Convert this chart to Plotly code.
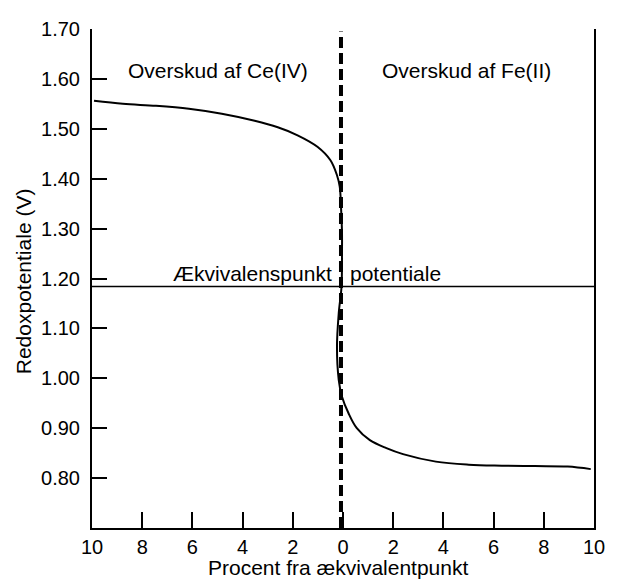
import plotly.graph_objects as go

# Titration curve: percent away from the equivalence point (negative = Ce(IV) side)
pct = [-9.92, -8.77, -7.45, -6.14, -4.83, -3.52, -2.60, -1.81, -1.02,
       -0.50, -0.24, -0.13, -0.08, -0.04, -0.04, -0.06, -0.17, -0.24, -0.17,
       -0.04, 0.22, 0.55, 1.07, 1.73, 2.39, 3.70, 5.01, 6.33, 7.64, 8.95, 9.87]
potential = [1.556, 1.550, 1.546, 1.540, 1.530, 1.516, 1.503, 1.487, 1.464,
             1.437, 1.407, 1.384, 1.344, 1.291, 1.257, 1.183, 1.130, 1.063, 0.997,
             0.963, 0.930, 0.900, 0.876, 0.860, 0.848, 0.833, 0.827, 0.825, 0.824, 0.823, 0.818]

eq_potential = 1.184     # equivalence-point potential (V)
eq_x = -0.08             # equivalence point marker

x_ticks = [-10, -8, -6, -4, -2, 0, 2, 4, 6, 8, 10]
x_tick_text = ["10", "8", "6", "4", "2", "0", "2", "4", "6", "8", "10"]
y_ticks = [0.80, 0.90, 1.00, 1.10, 1.20, 1.30, 1.40, 1.50, 1.60, 1.70]

FONT = "Liberation Sans, Arial, sans-serif"

fig = go.Figure()
fig.add_trace(go.Scatter(
    x=pct, y=potential, mode="lines",
    line=dict(color="black", width=2, shape="spline", smoothing=1.0),
    showlegend=False, hoverinfo="skip",
))

# Equivalence-point potential (horizontal) and equivalence point (dashed vertical)
fig.add_shape(type="line", x0=-10, x1=10, y0=eq_potential, y1=eq_potential,
              line=dict(color="black", width=1.5))
fig.add_shape(type="line", x0=eq_x, x1=eq_x, y0=0.70, y1=1.695,
              line=dict(color="black", width=4, dash="11px,5px"))

ann_font = dict(family=FONT, size=21, color="black")
fig.add_annotation(x=-5.0, y=1.616, text="Overskud af Ce(IV)", showarrow=False,
                   xanchor="center", yanchor="middle", font=ann_font)
fig.add_annotation(x=4.92, y=1.616, text="Overskud af Fe(II)", showarrow=False,
                   xanchor="center", yanchor="middle", font=ann_font)
fig.add_annotation(x=-0.35, y=1.211, text="Ækvivalenspunkt", showarrow=False,
                   xanchor="right", yanchor="middle", font=ann_font)
fig.add_annotation(x=0.2, y=1.211, text="potentiale", showarrow=False,
                   xanchor="left", yanchor="middle", font=ann_font)

# Axis titles
fig.add_annotation(xref="paper", yref="paper", x=0.49, y=-0.08,
                   text="Procent fra ækvivalentpunkt", showarrow=False,
                   xanchor="center", yanchor="middle", font=ann_font)
fig.add_annotation(xref="paper", yref="paper", x=-0.136, y=0.494,
                   text="Redoxpotentiale (V)", showarrow=False, textangle=-90,
                   xanchor="center", yanchor="middle", font=ann_font)

fig.update_layout(
    width=617, height=579,
    margin=dict(l=92, r=17, t=29, b=51),
    paper_bgcolor="white", plot_bgcolor="white",
    font=dict(family=FONT, size=20, color="black"),
    xaxis=dict(
        range=[-10, 10], tickvals=x_ticks, ticktext=x_tick_text,
        showline=True, linecolor="black", linewidth=2, mirror=False,
        ticks="inside", ticklen=16, tickwidth=2, tickcolor="black",
        showgrid=False, zeroline=False, fixedrange=True,
    ),
    yaxis=dict(
        range=[0.70, 1.70], tickvals=y_ticks, tickformat=".2f",
        showline=True, linecolor="black", linewidth=2, mirror=True,
        ticks="inside", ticklen=15, tickwidth=2, tickcolor="black",
        ticklabelstandoff=6,
        showgrid=False, zeroline=False, fixedrange=True,
    ),
)

fig.write_html("out.html")
